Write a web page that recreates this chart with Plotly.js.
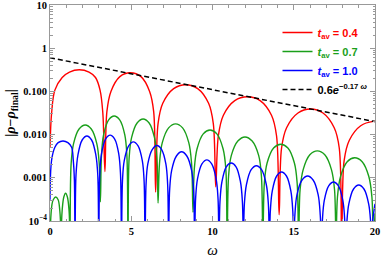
<!DOCTYPE html>
<html><head><meta charset="utf-8">
<script src="https://cdn.plot.ly/plotly-3.0.1.min.js"></script>
<style>html,body{margin:0;padding:0;background:#fff}#c{width:382px;height:258px}</style>
</head><body><div id="c"></div>
<script>
const redX = [0,0.1,0.3,0.75,1.2,1.8,2.4,2.8,3.08,3.25,3.38,
 3.5,3.75,4.3,4.94,5.6,6.13,6.38,6.5,
 6.65,6.94,7.61,8.35,9.09,9.76,10.05,10.2,
 10.36,10.67,11.37,12.15,12.93,13.63,13.94,14.1,
 14.25,14.56,15.26,16.03,16.8,17.49,17.8,17.95,
 18.1,18.42,19.12,19.9,20];
const redY = [0.0049,0.032,0.107,0.21,0.28,0.316,0.28,0.21,0.107,0.032,0.0014,
 0.034,0.10,0.22,0.27,0.22,0.10,0.034,0.00047,
 0.018,0.053,0.116,0.143,0.116,0.053,0.018,0.00062,
 0.0094,0.028,0.061,0.075,0.061,0.028,0.0094,0.00014,
 0.0049,0.0144,0.0316,0.039,0.0316,0.0144,0.0049,0.00003,
 0.0025,0.0074,0.016,0.0202,0.0201];
const greenX = [0,0.05,0.12,0.2,0.35,0.5,0.6,0.66,0.68,
 0.70,0.75,0.85,0.96,1.07,1.17,1.21,1.23,
 1.30,1.45,1.79,2.17,2.54,2.88,3.03,3.1,
 3.17,3.30,3.61,3.95,4.29,4.60,4.73,4.8,
 4.87,5.02,5.36,5.73,6.10,6.43,6.58,6.65,
 6.74,6.91,7.30,7.73,8.16,8.54,8.71,8.8,
 8.88,9.05,9.43,9.85,10.27,10.65,10.82,10.9,
 10.99,11.16,11.56,12.0,12.44,12.84,13.01,13.1,
 13.19,13.36,13.76,14.2,14.64,15.04,15.21,15.3,
 15.39,15.58,15.99,16.45,16.91,17.32,17.51,17.6,
 17.69,17.88,18.29,18.75,19.21,19.62,19.81,19.9,
 20];
const greenY = [0.00003,0.00012,0.00024,0.00031,0.00036,0.00031,0.00018,0.00007,0.00003,
 0.00007,0.00018,0.00036,0.00044,0.00036,0.00018,0.00007,0.00003,
 0.0021,0.0062,0.0135,0.0167,0.0135,0.0062,0.0021,0.00028,
 0.0034,0.010,0.022,0.027,0.022,0.010,0.0034,0.00003,
 0.0029,0.0085,0.0186,0.023,0.0186,0.0085,0.0029,0.00026,
 0.0022,0.0065,0.0143,0.0177,0.0143,0.0065,0.0022,0.00016,
 0.0016,0.0047,0.0104,0.0128,0.0104,0.0047,0.0016,0.00003,
 0.0011,0.0033,0.0071,0.0088,0.0071,0.0033,0.0011,0.00003,
 0.00075,0.0022,0.0049,0.006,0.0049,0.0022,0.00075,0.00003,
 0.00053,0.00155,0.0034,0.0042,0.0034,0.00155,0.00053,0.00003,
 0.00036,0.00107,0.00235,0.0029,0.00235,0.00107,0.00036,0.00003,
 0.00015];
const blueX = [0,0.1,0.3,0.5,0.8,1.1,1.33,1.43,1.5,1.54,
 1.60,1.72,1.98,2.27,2.56,2.82,2.94,3.0,
 3.06,3.17,3.42,3.70,3.98,4.23,4.34,4.4,
 4.46,4.57,4.84,5.13,5.42,5.68,5.79,5.85,
 5.91,6.02,6.29,6.58,6.87,7.13,7.24,7.3,
 7.36,7.49,7.78,8.1,8.42,8.71,8.84,8.9,
 8.96,9.08,9.35,9.65,9.95,10.22,10.34,10.4,
 10.46,10.58,10.85,11.15,11.45,11.72,11.84,11.9,
 11.96,12.09,12.38,12.7,13.02,13.31,13.44,13.5,
 13.56,13.68,13.95,14.25,14.55,14.82,14.94,15.0,
 15.07,15.2,15.51,15.85,16.19,16.5,16.63,16.7,
 16.76,16.88,17.15,17.45,17.75,18.02,18.14,18.2,
 18.26,18.39,18.68,19.0,19.32,19.61,19.74,19.8,
 19.86,20];
const blueY = [0.00031,0.0026,0.0051,0.0065,0.0071,0.0065,0.0051,0.0026,0.0009,0.00003,
 0.00116,0.0034,0.0075,0.0093,0.0075,0.0034,0.00116,0.00003,
 0.0012,0.0036,0.0079,0.0097,0.0079,0.0036,0.0012,0.00003,
 0.00085,0.0025,0.0055,0.0068,0.0055,0.0025,0.00085,0.00003,
 0.0007,0.0021,0.0045,0.0056,0.0045,0.0021,0.0007,0.00003,
 0.0005,0.0015,0.0032,0.004,0.0032,0.0015,0.0005,0.00003,
 0.00033,0.00096,0.0021,0.0026,0.0021,0.00096,0.00033,0.00003,
 0.00028,0.00081,0.0018,0.0022,0.0018,0.00081,0.00028,0.00003,
 0.00024,0.0007,0.00154,0.0019,0.00154,0.0007,0.00024,0.00003,
 0.00017,0.0005,0.0011,0.00136,0.0011,0.0005,0.00017,0.00003,
 0.000138,0.00041,0.00089,0.0011,0.00089,0.00041,0.000138,0.00003,
 0.0001,0.0003,0.00065,0.0008,0.00065,0.0003,0.0001,0.00003,
 0.000085,0.00025,0.00055,0.00068,0.00055,0.00025,0.000085,0.00003,
 0.0001,0.00025];
const fitX = [0,20];
const fitY = [0.6,0.0200];
const seriesNames = ['<span style="color:#ff0000"><i>t</i><sub>av</sub> = 0.4</span>',
 '<span style="color:#1a9f1a"><i>t</i><sub>av</sub> = 0.7</span>',
 '<span style="color:#0000ff"><i>t</i><sub>av</sub> = 1.0</span>',
 '0.6<i>e</i><sup>−0.17 <i>ω</i></sup>'];
const xTickVals = [0,5,10,15,20];
const yTickVals = [1e-4,1e-3,1e-2,1e-1,1,10];
const yTickText = ['10<sup>−4</sup>','0.001','0.010','0.100','1','10'];

const yMinor = [];
for (let e=-4; e<1; e++) for (let d=2; d<10; d++) yMinor.push(d*Math.pow(10,e));

const lw = 1.4;
const traces = [
 {x:redX,y:redY,mode:'lines',line:{color:'#ff0000',width:lw,shape:'spline'},name:seriesNames[0]},
 {x:greenX,y:greenY,mode:'lines',line:{color:'#1a9f1a',width:lw,shape:'spline'},name:seriesNames[1]},
 {x:blueX,y:blueY,mode:'lines',line:{color:'#0000ff',width:lw,shape:'spline'},name:seriesNames[2]},
 {x:fitX,y:fitY,mode:'lines',line:{color:'#000',width:1.5,dash:'5px,3px'},name:seriesNames[3]}
];
const tf = {family:'Liberation Serif',size:10.5,color:'#000',weight:'bold'};
const layout = {
 width:382,height:258,
 margin:{l:50,r:7,t:5,b:37},
 paper_bgcolor:'#fff',plot_bgcolor:'#fff',
 showlegend:true,
 legend:{x:0.70,y:0.94,xanchor:'left',yanchor:'top',bgcolor:'rgba(0,0,0,0)',
   font:{family:'Liberation Sans',size:11,weight:'bold',color:'#000'},tracegroupgap:0},
 xaxis:{range:[0,20],showline:true,linecolor:'#999',linewidth:1,mirror:'ticks',
   ticks:'inside',ticklen:5,tickcolor:'#999',tickvals:xTickVals,tickfont:tf,
   ticklabeloverflow:'allow',
   minor:{ticks:'inside',ticklen:2.5,tickcolor:'#999',dtick:1},
   showgrid:false,zeroline:false,
   title:{text:'<i>ω</i>',font:{family:'Liberation Serif',size:15,color:'#000'},standoff:8}},
 yaxis:{type:'log',range:[-4,1.00001],showline:true,linecolor:'#999',linewidth:1,mirror:'ticks',
   ticks:'inside',ticklen:5,tickcolor:'#999',tickvals:yTickVals,ticktext:yTickText,tickfont:tf,
   ticklabeloverflow:'allow',
   minor:{ticks:'inside',ticklen:2.5,tickcolor:'#999',tickvals:yMinor},
   showgrid:false,zeroline:false,
   title:{text:'|<i>ρ</i>−<i>ρ</i><sub>final</sub>|',font:{family:'Liberation Serif',size:14,color:'#000',weight:'bold'},standoff:4}}
};
Plotly.newPlot('c',traces,layout,{displayModeBar:false,staticPlot:true});
</script></body></html>
